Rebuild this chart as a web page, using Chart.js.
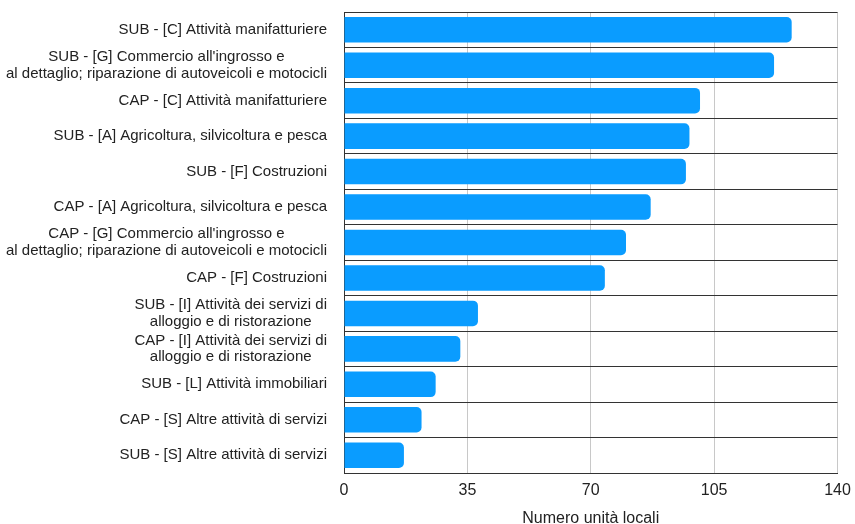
<!DOCTYPE html>
<html lang="it">
<head>
<meta charset="utf-8">
<script src="https://cdn.jsdelivr.net/npm/chart.js@4.4.1/dist/chart.umd.min.js"></script>
<style>
  html, body { margin: 0; padding: 0; background: #ffffff; }
  #wrap { width: 855px; height: 524px; position: relative; }
</style>
</head>
<body>
<div id="wrap"><canvas id="chart"></canvas></div>
<script>
// Settori di attività (SUB = subfornitura, CAP = capofila)
const categories = [
  'SUB - [C] Attività manifatturiere',
  ['SUB - [G] Commercio all\'ingrosso e', 'al dettaglio; riparazione di autoveicoli e motocicli'],
  'CAP - [C] Attività manifatturiere',
  'SUB - [A] Agricoltura, silvicoltura e pesca',
  'SUB - [F] Costruzioni',
  'CAP - [A] Agricoltura, silvicoltura e pesca',
  ['CAP - [G] Commercio all\'ingrosso e', 'al dettaglio; riparazione di autoveicoli e motocicli'],
  'CAP - [F] Costruzioni',
  ['SUB - [I] Attività dei servizi di', 'alloggio e di ristorazione'],
  ['CAP - [I] Attività dei servizi di', 'alloggio e di ristorazione'],
  'SUB - [L] Attività immobiliari',
  'CAP - [S] Altre attività di servizi',
  'SUB - [S] Altre attività di servizi'
];

// Numero di unità locali per settore
const unitaLocali = [127, 122, 101, 98, 97, 87, 80, 74, 38, 33, 26, 22, 17];

// Tacche dell'asse orizzontale
const xTicks = [0, 35, 70, 105, 140];
const xTitle = 'Numero unità locali';

const FONT = '"Liberation Sans", Arial, Helvetica, sans-serif';
const TEXT = '#222222';

// Etichette di categoria: blocco allineato a destra, righe centrate tra loro
const categoryLabels = {
  id: 'categoryLabels',
  afterDraw(chart) {
    const { ctx, chartArea, scales } = chart;
    const y = scales.y;
    ctx.save();
    ctx.font = '15px ' + FONT;
    ctx.fillStyle = TEXT;
    ctx.textBaseline = 'middle';
    ctx.textAlign = 'center';
    const right = chartArea.left - 17;
    const lh = 16.5;
    categories.forEach((lab, i) => {
      const lines = Array.isArray(lab) ? lab : [lab];
      const w = Math.max(...lines.map(l => ctx.measureText(l).width));
      const cx = right - w / 2;
      const yc = y.getPixelForValue(i);
      lines.forEach((l, k) => {
        ctx.fillText(l, cx, yc + (k - (lines.length - 1) / 2) * lh);
      });
    });
    ctx.restore();
  }
};

new Chart(document.getElementById('chart'), {
  type: 'bar',
  data: {
    labels: categories,
    datasets: [{
      data: unitaLocali,
      backgroundColor: '#0a9cff',
      borderRadius: 5,
      borderSkipped: 'start',
      barPercentage: 0.72,
      categoryPercentage: 1
    }]
  },
  options: {
    indexAxis: 'y',
    responsive: true,
    maintainAspectRatio: false,
    animation: false,
    layout: { padding: { top: 12, right: 17.5, bottom: -3, left: 0 } },
    plugins: {
      legend: { display: false },
      tooltip: { enabled: false }
    },
    scales: {
      x: {
        type: 'linear',
        min: xTicks[0],
        max: xTicks[xTicks.length - 1],
        afterBuildTicks(scale) {
          scale.ticks = xTicks.map(v => ({ value: v }));
        },
        afterFit(scale) {
          // the "140" label may overhang into the right margin
          scale.paddingRight = 0;
          scale.paddingLeft = 0;
        },
        grid: { color: '#c8c8c8', lineWidth: 1, drawTicks: false },
        border: { color: '#333333', width: 1 },
        ticks: {
          font: { family: FONT, size: 16, lineHeight: 1 },
          color: TEXT,
          padding: 10
        },
        title: {
          display: true,
          text: xTitle,
          font: { family: FONT, size: 16, lineHeight: 1 },
          color: TEXT,
          padding: { top: 2, bottom: 0 }
        }
      },
      y: {
        type: 'category',
        afterFit(scale) { scale.width = 344; },
        grid: { color: '#333333', lineWidth: 1, drawTicks: false, offset: true },
        border: { color: '#333333', width: 1 },
        ticks: { display: false }
      }
    }
  },
  plugins: [categoryLabels]
});
</script>
</body>
</html>
